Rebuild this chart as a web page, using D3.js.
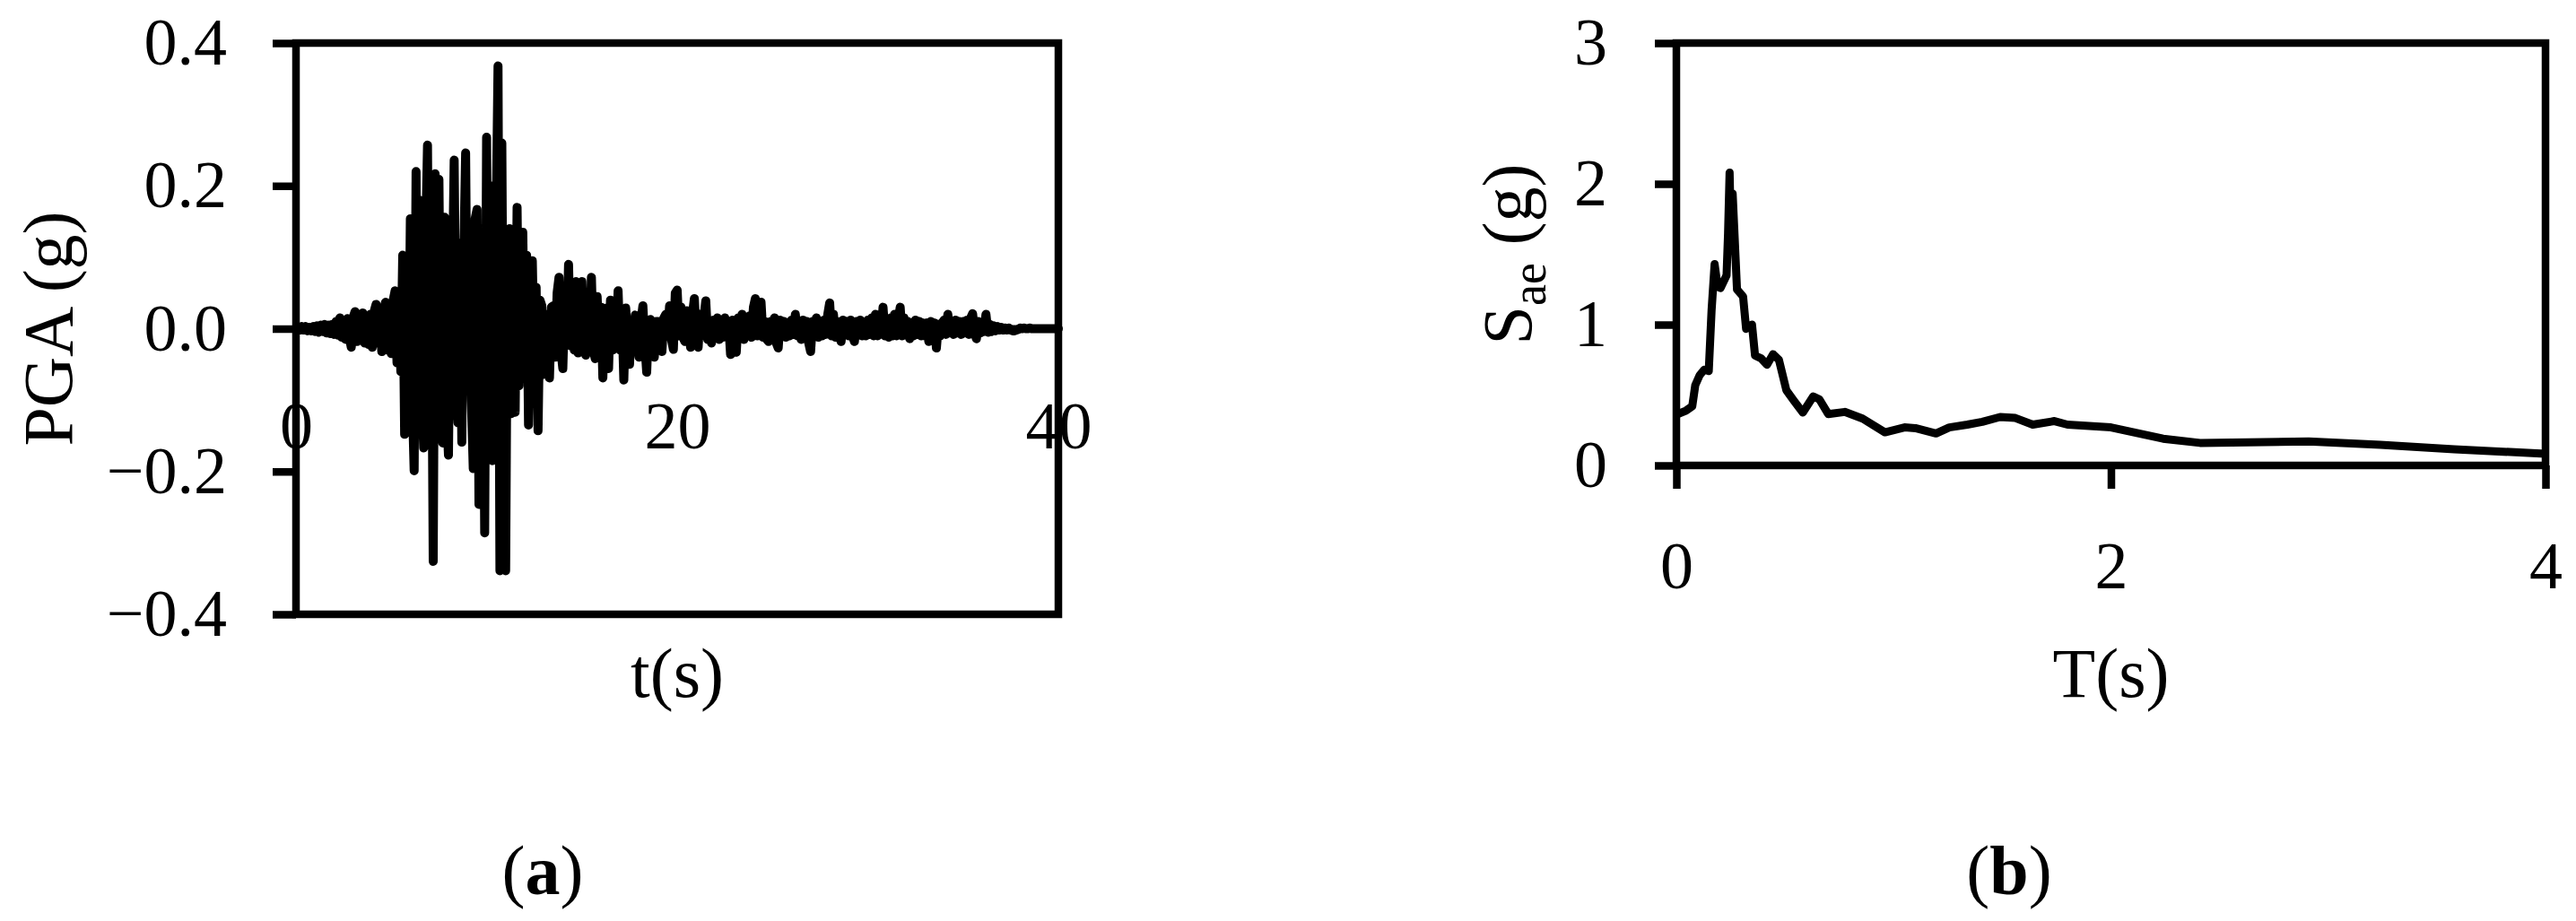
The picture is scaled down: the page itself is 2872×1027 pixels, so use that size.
<!DOCTYPE html>
<html>
<head>
<meta charset="utf-8">
<script src="https://cdn.jsdelivr.net/npm/d3@7"></script>
<style>
  body { margin: 0; background: #fff; }
  text { font-family: "Liberation Serif", "Times New Roman", serif; fill: #000; }
</style>
</head>
<body>
<script>
(function() {
  // ground motion record, one value every 0.1 s from 0 to 40 s (g)
  var dt = 0.1;
  var pga = [
    0, 0.002, -0.002, 0.003, -0.002, 0.003, -0.003, 0.002, -0.003, 0.003,
    -0.004, 0.004, -0.005, 0.005, -0.004, 0.006, -0.006, 0.005, -0.007, 0.006,
    -0.008, 0.01, -0.009, 0.015, -0.012, 0.012, -0.015, 0.014, -0.012, -0.026,
    0.016, 0.024, -0.018, 0.02, -0.016, 0.022, -0.02, 0.018, -0.022, 0.02,
    -0.026, 0.024, 0.034, -0.02, 0.026, -0.032, 0.028, 0.037, -0.03, 0.032,
    -0.035, 0.04, 0.053, -0.048, 0.05, -0.06, 0.103, -0.148, 0.08, -0.12,
    0.154, -0.1, -0.199, 0.22, -0.106, 0.18, -0.09, -0.167, 0.12, 0.257,
    -0.15, 0.1, -0.326, 0.217, -0.12, 0.209, -0.1, -0.16, 0.156, -0.12,
    -0.177, 0.087, 0.05, 0.236, -0.08, -0.132, 0.12, -0.159, 0.1, 0.246,
    -0.085, 0.13, -0.1, -0.196, 0.154, 0.167, -0.246, 0.09, 0.1, -0.286,
    0.268, -0.15, 0.2, -0.185, 0.2, 0.15, 0.368, -0.339, 0.26, -0.2,
    -0.339, 0.12, 0.14, -0.119, 0.1, -0.117, 0.17, -0.08, 0.1, 0.135,
    -0.069, 0.103, -0.135, 0.06, 0.095, -0.05, 0.058, -0.143, 0.04, 0.032,
    -0.064, 0.02, -0.04, -0.069, 0.03, 0.032, -0.04, 0.05, 0.072, -0.03,
    -0.056, 0.04, -0.02, 0.09, -0.024, 0.05, -0.03, 0.066, -0.034, 0.03,
    0.066, -0.02, -0.037, 0.04, -0.02, 0.072, -0.03, -0.042, 0.045, -0.02,
    0.03, -0.069, 0.02, 0.029, -0.056, 0.04, -0.03, 0.02, -0.02, 0.053,
    -0.03, 0.02, -0.072, 0.029, -0.02, -0.05, 0.01, -0.02, 0.019, -0.015,
    -0.04, 0.01, 0.032, -0.02, -0.061, 0.01, 0.013, -0.02, -0.04, 0.01,
    0.01, -0.02, -0.032, 0.015, 0.02, -0.01, 0.032, -0.015, -0.029, 0.05,
    0.054, -0.01, 0.03, -0.012, -0.018, 0.025, 0.015, -0.026, 0.02, 0.042,
    -0.01, -0.026, 0.02, -0.01, 0.015, 0.039, -0.015, 0.01, -0.02, 0.012,
    -0.01, 0.015, -0.015, 0.01, -0.012, 0.015, -0.01, 0.008, -0.036, 0.012,
    -0.02, -0.033, 0.015, -0.01, 0.02, -0.015, 0.012, -0.01, 0.018, -0.012,
    0.03, 0.042, -0.01, 0.02, 0.037, -0.012, 0.01, -0.015, -0.018, 0.01,
    -0.01, 0.015, -0.02, -0.027, 0.012, -0.01, 0.01, -0.012, 0.008, -0.01,
    0.012, -0.008, 0.02, -0.01, 0.01, -0.015, 0.012, -0.01, 0.01, -0.02,
    -0.032, 0.01, -0.01, 0.015, -0.012, 0.01, -0.01, 0.012, -0.008, 0.02,
    0.036, -0.01, 0.02, -0.012, 0.01, -0.01, -0.018, 0.012, -0.008, 0.01,
    -0.01, 0.012, -0.01, -0.018, 0.01, -0.008, 0.012, -0.01, 0.008, -0.01,
    0.012, -0.008, 0.015, -0.01, 0.02, -0.01, 0.015, -0.008, 0.03, -0.01,
    0.01, -0.012, 0.015, -0.01, 0.02, -0.01, 0.012, 0.03, -0.01, 0.015,
    -0.008, 0.01, -0.014, 0.008, -0.01, 0.012, -0.008, 0.01, -0.01, 0.008,
    -0.01, 0.008, -0.018, 0.01, -0.012, 0.008, -0.027, 0.006, -0.01, 0.008,
    0.012, -0.008, 0.02, -0.006, 0.01, -0.008, 0.012, -0.006, 0.01, -0.008,
    0.01, -0.006, 0.012, -0.008, 0.015, 0.021, -0.006, -0.014, 0.01, -0.006,
    0.008, -0.004, 0.02, -0.005, 0.006, -0.004, 0.004, -0.003, 0.003, -0.002,
    0.002, -0.002, 0.001, -0.002, 0.001, -0.002, -0.003, -0.003, -0.002, -0.001,
    0.001, 0, 0.001, 0, 0, 0.001, 0, 0, 0, 0,
    0, 0, 0, 0, 0, 0, 0, 0, 0, 0, 0
  ];

  // elastic response spectrum
  var periods = [0, 0.045, 0.073, 0.087, 0.107, 0.128, 0.149, 0.162, 0.176, 0.19,
    0.203, 0.231, 0.238, 0.245, 0.252, 0.259, 0.279, 0.307, 0.321, 0.348,
    0.362, 0.39, 0.417, 0.445, 0.472, 0.506, 0.541, 0.582, 0.63, 0.658,
    0.699, 0.775, 0.857, 0.96, 1.05, 1.1, 1.195, 1.256, 1.339, 1.408,
    1.49, 1.56, 1.64, 1.74, 1.8, 2.0, 2.24, 2.41, 2.91, 3.24, 3.58, 4.0];
  var sae = [0.36, 0.39, 0.42, 0.57, 0.64, 0.68, 0.67, 1.10, 1.43, 1.27,
    1.26, 1.35, 1.65, 2.08, 1.54, 1.93, 1.25, 1.20, 0.97, 1.0,
    0.78, 0.76, 0.715, 0.79, 0.75, 0.535, 0.46, 0.376, 0.49, 0.47,
    0.365, 0.38, 0.333, 0.235, 0.27, 0.265, 0.227, 0.27, 0.29, 0.31,
    0.344, 0.337, 0.29, 0.315, 0.29, 0.27, 0.19, 0.16, 0.17, 0.146, 0.115, 0.083];

  // tick labels
  var ticksTa = [0, 20, 40];
  var ticksPga = [-0.4, -0.2, 0, 0.2, 0.4];
  var ticksTb = [0, 2, 4];
  var ticksSae = [0, 1, 2, 3];

  var W = 2872, H = 1027;
  var lw = 8.5; // frame and tick width

  var svg = d3.select("body")
    .append("svg")
    .attr("width", W)
    .attr("height", H);

  //---------- panel (a)
  var xA = d3.scaleLinear().domain([0, 40]).range([330, 1180]);
  var yA = d3.scaleLinear().domain([-0.4, 0.4]).range([685, 48]);

  var lineA = d3.line()
    .x(function(d, i) { return xA(i * dt); })
    .y(function(d) { return yA(d); });

  svg.append("path")
    .datum(pga)
    .attr("d", lineA)
    .attr("fill", "none")
    .attr("stroke", "#000")
    .attr("stroke-width", 10)
    .attr("stroke-linejoin", "round")
    .attr("stroke-linecap", "round");

  // zero axis line
  svg.append("line")
    .attr("x1", xA(0)).attr("x2", xA(40))
    .attr("y1", yA(0)).attr("y2", yA(0))
    .attr("stroke", "#000").attr("stroke-width", 8);

  svg.append("rect")
    .attr("x", xA(0)).attr("y", yA(0.4))
    .attr("width", xA(40) - xA(0)).attr("height", yA(-0.4) - yA(0.4))
    .attr("fill", "none").attr("stroke", "#000").attr("stroke-width", lw);

  var axA = svg.append("g")
    .attr("transform", "translate(" + xA(0) + ",0)")
    .call(d3.axisLeft(yA).tickValues(ticksPga).tickFormat(d3.format(".1f")).tickSize(26).tickPadding(51));
  var axAx = svg.append("g")
    .attr("transform", "translate(0," + yA(0) + ")")
    .call(d3.axisBottom(xA).tickValues(ticksTa).tickSize(0).tickPadding(81));

  //---------- panel (b)
  var xB = d3.scaleLinear().domain([0, 4]).range([1869, 2838]);
  var yB = d3.scaleLinear().domain([0, 3]).range([519, 48]);

  var lineB = d3.line()
    .x(function(d, i) { return xB(periods[i]); })
    .y(function(d) { return yB(d); });

  svg.append("path")
    .datum(sae)
    .attr("d", lineB)
    .attr("fill", "none")
    .attr("stroke", "#000")
    .attr("stroke-width", 9)
    .attr("stroke-linejoin", "round");

  svg.append("rect")
    .attr("x", xB(0)).attr("y", yB(3))
    .attr("width", xB(4) - xB(0)).attr("height", yB(0) - yB(3))
    .attr("fill", "none").attr("stroke", "#000").attr("stroke-width", lw);

  var axB = svg.append("g")
    .attr("transform", "translate(" + xB(0) + ",0)")
    .call(d3.axisLeft(yB).tickValues(ticksSae).tickFormat(d3.format("d")).tickSize(24).tickPadding(53));
  var axBx = svg.append("g")
    .attr("transform", "translate(0," + yB(0) + ")")
    .call(d3.axisBottom(xB).tickValues(ticksTb).tickFormat(d3.format("d")).tickSize(26).tickPadding(58));

  // common axis styling
  [axA, axAx, axB, axBx].forEach(function(g) {
    g.select(".domain").remove();
    g.selectAll(".tick line").attr("stroke", "#000").attr("stroke-width", lw);
    g.selectAll(".tick text")
      .attr("font-family", "Liberation Serif, serif")
      .attr("font-size", 74)
      .attr("fill", "#000");
  });

  //---------- axis titles
  svg.append("text")
    .attr("transform", "translate(80," + yA(0) + ") rotate(-90)")
    .attr("text-anchor", "middle")
    .attr("font-size", 78)
    .text("PGA (g)");

  svg.append("text")
    .attr("x", (xA(0) + xA(40)) / 2).attr("y", 777)
    .attr("text-anchor", "middle")
    .attr("font-size", 78)
    .text("t(s)");

  var sLab = svg.append("text")
    .attr("transform", "translate(1707," + (yB(0) + yB(3)) / 2 + ") rotate(-90)")
    .attr("text-anchor", "middle")
    .attr("font-size", 78);
  sLab.append("tspan").text("S");
  sLab.append("tspan").attr("font-size", 54).attr("dy", 16).text("ae");
  sLab.append("tspan").attr("dy", -16).text(" (g)");

  svg.append("text")
    .attr("x", (xB(0) + xB(4)) / 2).attr("y", 777)
    .attr("text-anchor", "middle")
    .attr("font-size", 78)
    .text("T(s)");

  //---------- panel letters
  [["a", 605], ["b", 2240]].forEach(function(p) {
    var t = svg.append("text")
      .attr("x", p[1]).attr("y", 997)
      .attr("text-anchor", "middle")
      .attr("font-size", 78);
    t.append("tspan").text("(");
    t.append("tspan").attr("font-weight", "bold").text(p[0]);
    t.append("tspan").text(")");
  });
})();
</script>
</body>
</html>
